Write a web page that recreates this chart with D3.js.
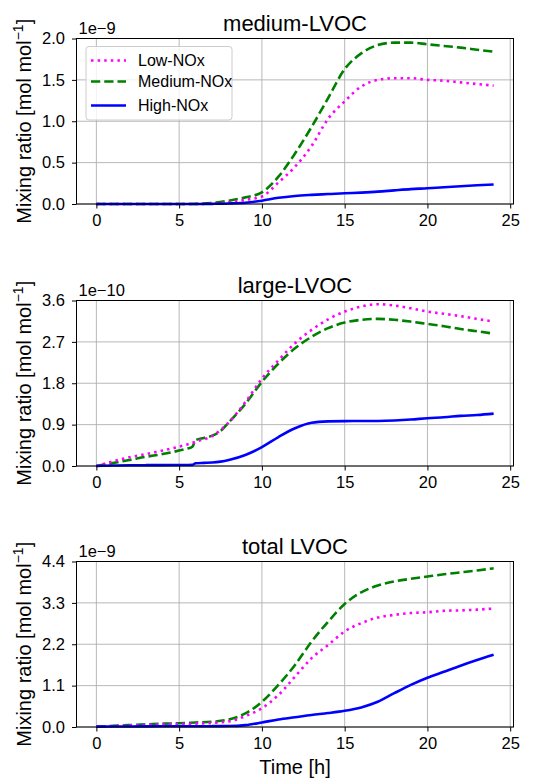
<!DOCTYPE html>
<html><head><meta charset="utf-8">
<script src="https://cdn.jsdelivr.net/npm/d3@7"></script>
<style>body{margin:0;background:#fff}svg{display:block}text{font-family:"Liberation Sans",Arial,sans-serif;fill:#000}</style>
</head><body>
<script>
// ---- data ----
const seriesNames = ["Low-NOx", "Medium-NOx", "High-NOx"];
const panelTitles = ["medium-LVOC", "large-LVOC", "total LVOC"];
const panelExponents = ["1e\u22129", "1e\u221210", "1e\u22129"];
const xTicks = [0, 5, 10, 15, 20, 25];
const yTicksMedium = [0, 0.5, 1.0, 1.5, 2.0];
const yTicksLarge = [0, 0.9, 1.8, 2.7, 3.6];
const yTicksTotal = [0, 1.1, 2.2, 3.3, 4.4];

const hoursMedium = [0,1,2,3,4,5,6,7,8,9,10,11,12,13,14,15,16,17,18,19,20,21,22,23,24];
const mediumLow  = [0,0,0,0,0,0,0,0.005,0.02,0.05,0.09,0.26,0.45,0.70,1.03,1.24,1.42,1.50,1.52,1.52,1.50,1.49,1.47,1.45,1.43];
const mediumMed  = [0,0,0,0,0,0,0.002,0.012,0.04,0.08,0.14,0.33,0.61,0.93,1.28,1.63,1.82,1.92,1.95,1.95,1.93,1.91,1.89,1.865,1.84];
const mediumHigh = [0,0,0,0,0,0,0,0.002,0.006,0.015,0.04,0.075,0.097,0.11,0.12,0.13,0.138,0.149,0.165,0.18,0.19,0.203,0.215,0.226,0.236];

const hoursLarge = [0,1,2,3,4,5,5.5,5.8,6,6.5,7,7.5,8,9,10,11,12,13,14,15,16,17,18,19,20,21,22,23,24];
const largeLow  = [0,0.10,0.19,0.26,0.335,0.42,0.47,0.50,0.53,0.58,0.65,0.78,0.95,1.39,1.90,2.30,2.67,2.96,3.19,3.36,3.47,3.52,3.49,3.43,3.36,3.31,3.26,3.20,3.14];
const largeMed  = [0,0.065,0.13,0.20,0.26,0.335,0.38,0.42,0.56,0.61,0.66,0.76,0.95,1.35,1.83,2.23,2.56,2.81,3.00,3.12,3.18,3.20,3.18,3.14,3.09,3.04,2.98,2.93,2.88];
const largeHigh = [0,0.01,0.015,0.018,0.02,0.022,0.023,0.025,0.06,0.068,0.075,0.095,0.13,0.24,0.41,0.63,0.82,0.94,0.97,0.977,0.978,0.98,0.99,1.01,1.04,1.06,1.09,1.11,1.14];

const hoursTotal = [0,1,2,3,4,5,6,7,8,9,10,11,12,13,14,15,16,17,18,19,20,21,22,23,24];
const totalLow  = [0.01,0.025,0.04,0.055,0.07,0.08,0.09,0.11,0.15,0.29,0.50,0.85,1.34,1.83,2.18,2.54,2.76,2.91,2.98,3.03,3.05,3.09,3.10,3.12,3.15];
const totalMed  = [0.01,0.03,0.05,0.07,0.09,0.10,0.12,0.14,0.20,0.36,0.67,1.12,1.65,2.27,2.80,3.27,3.58,3.76,3.87,3.94,4.00,4.06,4.11,4.16,4.22];
const totalHigh = [0.01,0.012,0.014,0.016,0.018,0.02,0.02,0.022,0.025,0.05,0.12,0.20,0.26,0.32,0.37,0.43,0.52,0.67,0.90,1.12,1.31,1.47,1.63,1.78,1.92];

const panels = [
  {title: panelTitles[0], exp: panelExponents[0], hours: hoursMedium, yTicks: yTicksMedium, series: [mediumLow, mediumMed, mediumHigh], top: 38.5, legend: true},
  {title: panelTitles[1], exp: panelExponents[1], hours: hoursLarge, yTicks: yTicksLarge, series: [largeLow, largeMed, largeHigh], top: 300.5},
  {title: panelTitles[2], exp: panelExponents[2], hours: hoursTotal, yTicks: yTicksTotal, series: [totalLow, totalMed, totalHigh], top: 561.5, xlabel: true}
];

const styles = [
  {color: "#ff00ff", dash: "2.5,4.1"},
  {color: "#008000", dash: "9.25,4"},
  {color: "#0000ff", dash: null}
];

const W = 537, H = 778;
const left = 76.5, right = 513.5, ph = 165.5;

const svg = d3.select("body").append("svg").attr("width", W).attr("height", H);

const x = d3.scaleLinear().domain([-1.2, 25.2]).range([left, right]);

panels.forEach((p, pi) => {
  const y = d3.scaleLinear().domain([0, p.yTicks[p.yTicks.length - 1]]).range([p.top + ph, p.top]);
  const g = svg.append("g");

  // grid
  g.append("g").selectAll("line").data(xTicks.filter(t => t <= 25.2)).join("line")
    .attr("x1", d => x(d)).attr("x2", d => x(d)).attr("y1", p.top).attr("y2", p.top + ph)
    .attr("stroke", "#b0b0b0").attr("stroke-width", 0.9);
  g.append("g").selectAll("line").data(p.yTicks).join("line")
    .attr("x1", left).attr("x2", right).attr("y1", d => y(d)).attr("y2", d => y(d))
    .attr("stroke", "#b0b0b0").attr("stroke-width", 0.9);

  // lines
  const line = d3.line().x((d, i) => x(p.hours[i])).y(d => y(d)).curve(d3.curveMonotoneX);
  [1, 0, 2].forEach(si => {
    g.append("path").datum(p.series[si]).attr("d", line)
      .attr("fill", "none").attr("stroke", styles[si].color).attr("stroke-width", 2.6)
      .attr("stroke-dasharray", styles[si].dash);
  });

  // axes
  const xa = g.append("g").attr("transform", `translate(0,${p.top + ph})`)
    .call(d3.axisBottom(x).tickValues(xTicks).tickFormat(d3.format("d")).tickSize(4.5).tickPadding(6));
  const ya = g.append("g").attr("transform", `translate(${left},0)`)
    .call(d3.axisLeft(y).tickValues(p.yTicks).tickFormat(d3.format(".1f")).tickSize(4.5).tickPadding(7));
  [xa, ya].forEach(a => {
    a.select(".domain").remove();
    a.selectAll("line").attr("stroke", "#000").attr("stroke-width", 1);
    a.selectAll("text").style("font-size", "16.5px").attr("fill", "#000");
  });
  // spines
  g.append("rect").attr("x", left).attr("y", p.top).attr("width", right - left).attr("height", ph)
    .attr("fill", "none").attr("stroke", "#000").attr("stroke-width", 1);

  // title
  g.append("text").attr("x", (left + right) / 2).attr("y", p.top - 8).attr("text-anchor", "middle")
    .style("font-size", "22px").text(p.title);
  // exponent
  g.append("text").attr("x", left + 2).attr("y", p.top - 5).style("font-size", "16.5px").text(p.exp);

  // y label
  const yl = g.append("text").attr("transform", `translate(30.5,${p.top + ph / 2}) rotate(-90)`)
    .attr("text-anchor", "middle").style("font-size", "20px");
  yl.append("tspan").text("Mixing ratio [mol mol");
  yl.append("tspan").attr("dy", -8).style("font-size", "14px").text("\u22121");
  yl.append("tspan").attr("dy", 8).text("]");

  if (p.xlabel) {
    g.append("text").attr("x", (left + right) / 2).attr("y", 774).attr("text-anchor", "middle")
      .style("font-size", "20px").text("Time [h]");
  }

  if (p.legend) {
    const lg = g.append("g");
    lg.append("rect").attr("x", 86).attr("y", 46.5).attr("width", 146).attr("height", 73.5).attr("rx", 3)
      .attr("fill", "#fff").attr("fill-opacity", 0.8).attr("stroke", "#cccccc").attr("stroke-width", 1);
    const rowsY = [60.5, 81.5, 105.5];
    seriesNames.forEach((n, i) => {
      lg.append("line").attr("x1", 91).attr("x2", 126).attr("y1", rowsY[i]).attr("y2", rowsY[i])
        .attr("stroke", styles[i].color).attr("stroke-width", 2.6).attr("stroke-dasharray", styles[i].dash);
      lg.append("text").attr("x", 138).attr("y", rowsY[i] + 5.7).style("font-size", "16px").text(n);
    });
  }
});
</script>
</body></html>
